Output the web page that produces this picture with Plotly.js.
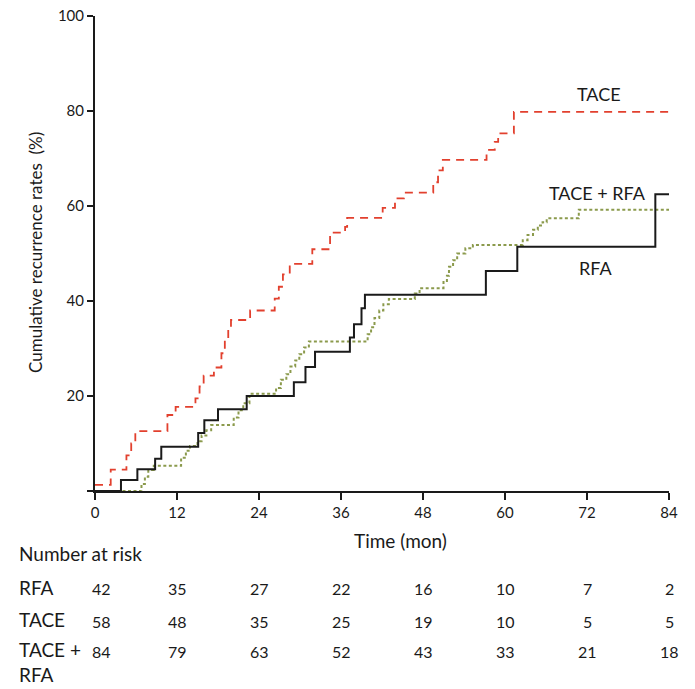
<!DOCTYPE html>
<html>
<head>
<meta charset="utf-8">
<script src="https://cdn.plot.ly/plotly-3.0.1.min.js"></script>
<style>
  html, body { margin: 0; padding: 0; background: white; }
  #chart { width: 695px; height: 689px; }
</style>
</head>
<body>
<div id="chart"></div>
<script>
// cumulative recurrence curves (months, %)
const rfaTime = [0, 3.8, 6.2, 8.8, 9.7, 15.1, 16.0, 18.0, 22.2, 29.1, 30.8, 32.2, 37.3, 37.9, 39.0, 39.5, 57.2, 61.8, 82.0, 84];
const rfaRate = [0, 2.3, 4.6, 6.8, 9.3, 12.2, 14.9, 17.2, 20.0, 22.9, 26.1, 29.3, 32.3, 35.1, 38.5, 41.3, 46.3, 51.4, 62.5, 62.5];

const taceTime = [0, 2.3, 4.6, 5.3, 5.9, 10.6, 11.8, 14.7, 15.3, 15.9, 17.4, 18.5, 19.0, 19.5, 19.9, 22.7, 26.3, 26.9, 27.5, 28.5, 31.8, 34.4, 36.6, 36.9, 42.1, 43.9, 45.2, 49.5, 50.2, 50.9, 57.3, 58.5, 59.0, 61.3, 84];
const taceRate = [1.3, 4.5, 7.5, 10.0, 12.6, 16.0, 17.7, 19.5, 22.0, 24.3, 26.0, 29.0, 32.0, 34.0, 36.0, 38.0, 40.5, 43.0, 45.6, 47.8, 50.9, 54.4, 55.6, 57.5, 59.6, 61.6, 62.8, 65.0, 67.5, 69.7, 71.8, 73.5, 75.3, 79.8, 79.8];

const comboTime = [0, 6.6, 6.8, 7.3, 7.8, 8.6, 12.6, 13.3, 13.9, 15.0, 15.6, 16.3, 17.0, 20.3, 21.0, 21.7, 22.6, 26.5, 27.2, 28.0, 28.6, 29.3, 29.9, 30.6, 31.3, 39.9, 40.4, 40.9, 41.6, 42.2, 43.0, 46.8, 47.5, 51.0, 51.5, 51.8, 52.4, 53.0, 54.2, 55.3, 62.6, 63.3, 64.1, 64.8, 65.5, 66.1, 70.8, 84];
const comboRate = [0, 0, 1.5, 3.0, 4.4, 5.3, 7.0, 8.5, 9.5, 10.5, 11.7, 12.8, 13.9, 15.5, 17.0, 18.5, 20.5, 21.7, 23.4, 24.6, 26.2, 27.5, 28.8, 30.2, 31.5, 33.0, 34.5, 36.4, 38.0, 39.3, 40.4, 41.6, 42.7, 44.0, 45.3, 47.2, 48.6, 50.0, 51.1, 51.8, 52.8, 53.9, 55.0, 55.9, 56.6, 57.4, 59.2, 59.2];

// number at risk table
const riskTicks = [0, 12, 24, 36, 48, 60, 72, 84];
const rfaRisk = [42, 35, 27, 22, 16, 10, 7, 2];
const taceRisk = [58, 48, 35, 25, 19, 10, 5, 5];
const comboRisk = [84, 79, 63, 52, 43, 33, 21, 18];

const FONT = 'Lato, "Open Sans", "DejaVu Sans", sans-serif';
const INK = "#1a1a1a";

const traces = [
  {
    x: taceTime, y: taceRate, mode: "lines", name: "TACE",
    line: { shape: "hv", color: "#e2402e", width: 1.8, dash: "8px,6px" }
  },
  {
    x: comboTime, y: comboRate, mode: "lines", name: "TACE + RFA",
    line: { shape: "hv", color: "#8b9a4c", width: 2, dash: "3px,2.5px" }
  },
  {
    x: rfaTime, y: rfaRate, mode: "lines", name: "RFA",
    line: { shape: "hv", color: INK, width: 2 }
  }
];

// plot spans px 95..669 across, 16..491 down
function colX(px) {
  return (px - 95) / 574;
}
function rowY(px) {
  return (491 - px) / 475;
}

function label(text, px, py, extra) {
  return Object.assign({
    text, x: colX(px), y: rowY(py), xref: "paper", yref: "paper",
    xanchor: "center", yanchor: "middle", showarrow: false, font: { size: 18 }
  }, extra || {});
}

const annotations = [
  label("TACE", 599, 94),
  label("TACE + RFA", 597, 193),
  label("RFA", 595, 268),
  label("Time (mon)", 400, 540, { font: { size: 19 } }),
  label("Cumulative recurrence rates  (%)", 36, 253, { textangle: -90, font: { size: 17 } }),
  label("Number at risk", 17, 553, { xanchor: "left", font: { size: 19 } }),
  label("RFA", 17, 587, { xanchor: "left", font: { size: 19 } }),
  label("TACE", 17, 620, { xanchor: "left", font: { size: 19 } }),
  label("TACE +<br>RFA", 17, 662, { xanchor: "left", align: "left", font: { size: 19 } })
];

const rows = [[rfaRisk, 588], [taceRisk, 621], [comboRisk, 651]];
rows.forEach(([vals, py]) => {
  vals.forEach((v, i) => {
    annotations.push({
      text: String(v), x: riskTicks[i], y: rowY(py), xref: "x", yref: "paper",
      xanchor: "center", yanchor: "middle",
      xshift: i === 0 ? 6 : 0, showarrow: false, font: { size: 16 }
    });
  });
});

const layout = {
  width: 695,
  height: 689,
  margin: { l: 95, r: 26, t: 16, b: 198 },
  paper_bgcolor: "white",
  plot_bgcolor: "white",
  showlegend: false,
  font: { family: FONT, color: INK, size: 16 },
  xaxis: {
    range: [0, 84],
    tickvals: riskTicks,
    ticks: "outside", ticklen: 7, tickwidth: 2, tickcolor: INK,
    showline: true, linecolor: INK, linewidth: 2,
    showgrid: false, zeroline: false,
    tickfont: { size: 15 }
  },
  yaxis: {
    range: [0, 100],
    tickvals: [0, 20, 40, 60, 80, 100],
    ticktext: ["", "20", "40", "60", "80", "100"],
    ticks: "outside", ticklen: 6, tickwidth: 2, tickcolor: INK,
    showline: true, linecolor: INK, linewidth: 2,
    showgrid: false, zeroline: false,
    tickfont: { size: 15 }
  },
  annotations
};

Plotly.newPlot("chart", traces, layout, { displayModeBar: false, staticPlot: true });
</script>
</body>
</html>
